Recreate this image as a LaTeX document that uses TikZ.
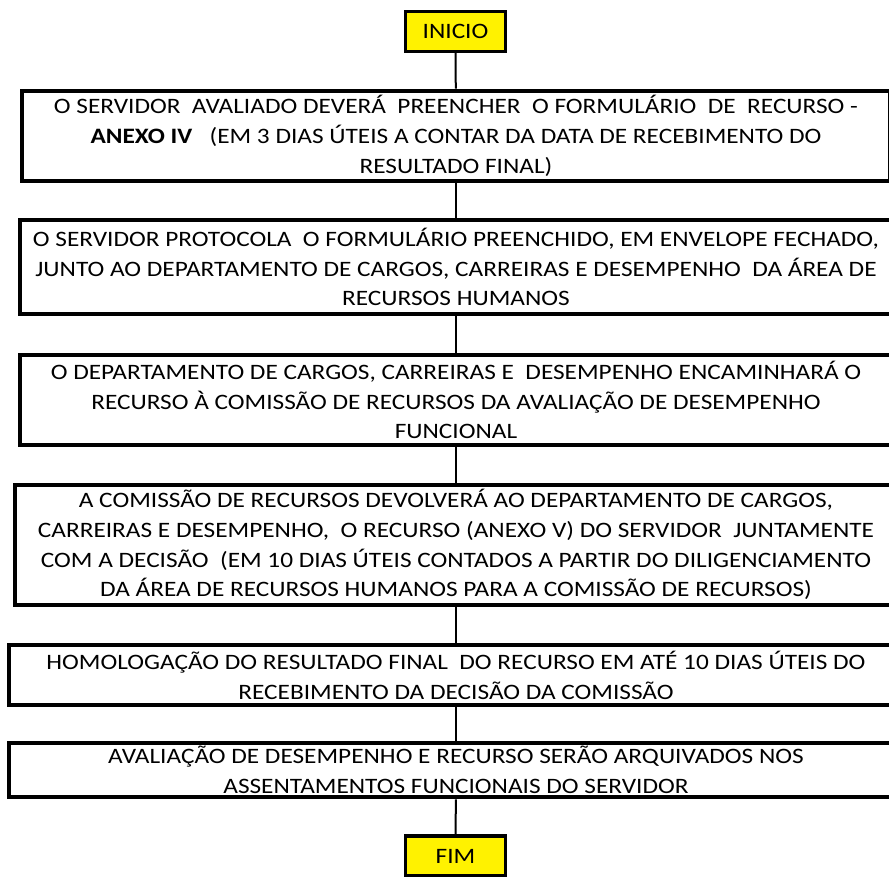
\documentclass[tikz,border=0pt]{standalone}
\usepackage{fontspec}
\setmainfont{Carlito}[FakeStretch=1.15]
\usepackage{tikz}
\usetikzlibrary{positioning}

\begin{document}
\begin{tikzpicture}[x=0.75pt, y=-0.75pt,
    stepbox/.style={draw, line width=3pt, fill=white, align=center, inner sep=0pt,
      font=\fontsize{16.5}{22.4}\selectfont},
    endbox/.style={draw, line width=2.6pt, fill=yellow, inner sep=0pt,
      minimum width=75pt, minimum height=30pt, font=\fontsize{16.5}{20}\selectfont},
    link/.style={line width=1.5pt}]
      \useasboundingbox (0,0) rectangle (889,876);
      \clip (0,0) rectangle (889,876);
      \node [endbox] (inicio) at (455.5, 31.5) {INICIO};
      \node [stepbox, minimum width=651pt, minimum height=68pt] (passo1) at (456, 136)
        {O SERVIDOR\ \ AVALIADO DEVERÁ\ \ PREENCHER\ \ O FORMULÁRIO\ \ DE\ \ RECURSO -\\
         \textbf{ANEXO IV}\ \ \ (EM 3 DIAS ÚTEIS A CONTAR DA DATA DE RECEBIMENTO DO\\
         RESULTADO FINAL)};
      \node [stepbox, minimum width=654pt, minimum height=71pt] (passo2) at (456, 267)
        {O SERVIDOR PROTOCOLA\ \ O FORMULÁRIO PREENCHIDO, EM ENVELOPE FECHADO,\\
         JUNTO AO DEPARTAMENTO DE CARGOS, CARREIRAS E DESEMPENHO\ \ DA ÁREA DE\\
         RECURSOS HUMANOS};
      \node [stepbox, minimum width=654pt, minimum height=68pt] (passo3) at (456, 400)
        {O DEPARTAMENTO DE CARGOS, CARREIRAS E\ \ DESEMPENHO ENCAMINHARÁ O\\
         RECURSO À COMISSÃO DE RECURSOS DA AVALIAÇÃO DE DESEMPENHO\\
         FUNCIONAL};
      \node [stepbox, minimum width=661pt, minimum height=90pt] (passo4) at (456, 544.5)
        {A COMISSÃO DE RECURSOS DEVOLVERÁ AO DEPARTAMENTO DE CARGOS,\\
         CARREIRAS E DESEMPENHO,\ \ O RECURSO (ANEXO V) DO SERVIDOR\ \ JUNTAMENTE\\
         COM A DECISÃO\ \ (EM 10 DIAS ÚTEIS CONTADOS A PARTIR DO DILIGENCIAMENTO\\
         DA ÁREA DE RECURSOS HUMANOS PARA A COMISSÃO DE RECURSOS)};
      \node [stepbox, minimum width=670pt, minimum height=45pt] (passo5) at (456, 675)
        {HOMOLOGAÇÃO DO RESULTADO FINAL\ \ DO RECURSO EM ATÉ 10 DIAS ÚTEIS DO\\
         RECEBIMENTO DA DECISÃO DA COMISSÃO};
      \node [stepbox, minimum width=670pt, minimum height=41pt] (passo6) at (456, 770)
        {AVALIAÇÃO DE DESEMPENHO E RECURSO SERÃO ARQUIVADOS NOS\\
         ASSENTAMENTOS FUNCIONAIS DO SERVIDOR};
      \node [endbox] (fim) at (455.5, 856) {FIM};
      \draw [link] (inicio) -- (passo1);
      \draw [link] (passo1) -- (passo2);
      \draw [link] (passo2) -- (passo3);
      \draw [link] (passo3) -- (passo4);
      \draw [link] (passo4) -- (passo5);
      \draw [link] (passo5) -- (passo6);
      \draw [link] (passo6) -- (fim);
    \end{tikzpicture}
\end{document}
